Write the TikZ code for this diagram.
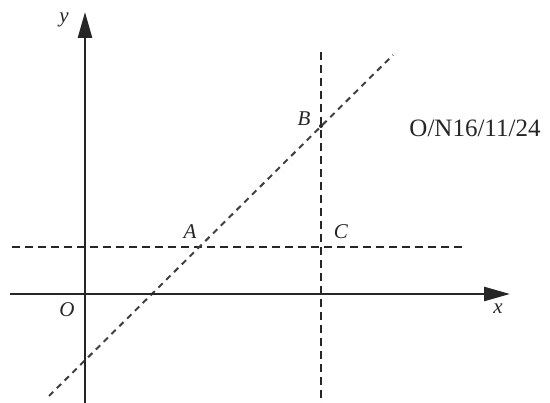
\documentclass[tikz,border=0pt]{standalone}
\usepackage{fontspec}
\setmainfont{Liberation Serif}
\usetikzlibrary{arrows.meta}
\definecolor{ink}{HTML}{262626}
\definecolor{dashgray}{HTML}{404040}
\begin{document}
\begin{tikzpicture}[x=1pt,y=-1pt,
  axis/.style={draw=ink,line width=2.6pt,-{Triangle[length=26pt,width=14pt]}},
  guide/.style={draw=ink,line width=2pt,dash pattern=on 8pt off 5pt},
  slant/.style={draw=dashgray,line width=2pt,dash pattern=on 6pt off 5pt},
  lbl/.style={font=\fontsize{21}{21}\selectfont\itshape,text=ink,inner sep=0pt},
  ref/.style={font=\fontsize{25}{25}\selectfont,text=ink,inner sep=0pt}]
\useasboundingbox (0,0) rectangle (550,403);
% coordinates
\coordinate (xs) at (10,294);
\coordinate (xe) at (510,294);
\coordinate (ys) at (85,403);
\coordinate (ye) at (85,12);
\coordinate (hs) at (12,247);
\coordinate (he) at (465,247);
\coordinate (vs) at (321,52);
\coordinate (ve) at (321,403);
\coordinate (ds) at (49,396);
\coordinate (de) at (393,55);
\coordinate (A) at (199,247);
\coordinate (B) at (321,126);
\coordinate (C) at (321,247);
% guides
\draw[guide] (hs) -- (he);
\draw[guide] (vs) -- (ve);
\draw[slant] (ds) -- (de);
% axes
\draw[axis] (xs) -- (xe);
\draw[axis] (ys) -- (ye);
% point B dot
\fill[ink] (B) circle (2pt);
% labels
\node[lbl] (ylab) at (64,20) {y};
\node[lbl] (xlab) at (498,309) {x};
\node[lbl] (olab) at (67,310) {O};
\node[lbl] (alab) at (190,232) {A};
\node[lbl] (blab) at (304,119) {B};
\node[lbl] (clab) at (341,232) {C};
\node[ref] (code) at (475,128) {O/N16/11/24};
\end{tikzpicture}
\end{document}
